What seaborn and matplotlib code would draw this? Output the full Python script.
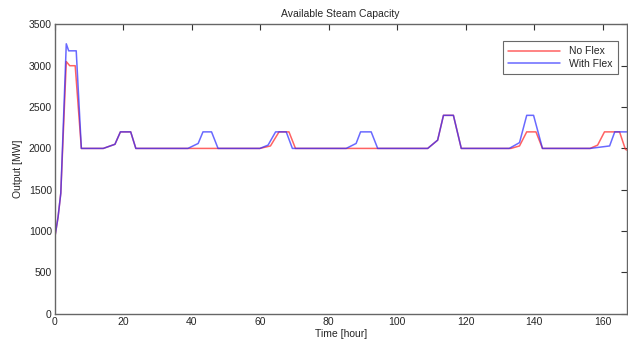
import pandas as pd
import seaborn as sns
import matplotlib.pyplot as plt

# breakpoints (hour, MW)
no_flex_t = [0, 1, 1.8, 3.4, 4.4, 6.0, 7.8, 14.2, 17.6, 19.2, 22.2, 23.7,
             38.9, 47.7, 59.9, 63.0, 65.5, 68.4, 70.3,
             85.1, 94.3, 108.9, 111.8, 113.5, 116.4, 118.7,
             133.2, 135.7, 137.8, 140.5, 142.4,
             156.3, 158.5, 160.5, 164.9, 166.6, 167]
no_flex_mw = [910, 1170, 1460, 3050, 3000, 3000, 2000, 2000, 2050, 2200, 2200, 2000,
              2000, 2000, 2000, 2030, 2200, 2200, 2000,
              2000, 2000, 2000, 2100, 2400, 2400, 2000,
              2000, 2030, 2200, 2200, 2000,
              2000, 2040, 2200, 2200, 1990, 1980]

with_flex_t = [0, 1, 1.8, 3.4, 4.1, 6.3, 7.8, 14.2, 17.6, 19.2, 22.2, 23.7,
               38.9, 41.9, 43.3, 45.8, 47.7, 59.9, 62.3, 64.5, 67.6, 69.4,
               85.1, 88.0, 89.3, 92.4, 94.3, 108.9, 111.8, 113.5, 116.4, 118.7,
               132.7, 135.7, 137.8, 139.8, 142.4,
               156.3, 162.0, 163.5, 167]
with_flex_mw = [910, 1170, 1460, 3265, 3180, 3180, 2000, 2000, 2050, 2200, 2200, 2000,
                2000, 2060, 2200, 2200, 2000, 2000, 2040, 2200, 2200, 2000,
                2000, 2060, 2200, 2200, 2000, 2000, 2100, 2400, 2400, 2000,
                2000, 2070, 2400, 2400, 2000,
                2000, 2030, 2200, 2200]

df_no = pd.DataFrame({'t': no_flex_t, 'mw': no_flex_mw})
df_with = pd.DataFrame({'t': with_flex_t, 'mw': with_flex_mw})

sns.set_style('white')
plt.rcParams['font.family'] = ['Liberation Sans', 'DejaVu Sans']
plt.rcParams['font.size'] = 7.5

fig = plt.figure(figsize=(6.28, 3.43), dpi=100)
ax = fig.add_axes([0.087, 0.085, 0.911, 0.844])

sns.lineplot(data=df_no, x='t', y='mw', sort=False, color='#ff2020', lw=1.1,
             alpha=0.7, label='No Flex', ax=ax)
sns.lineplot(data=df_with, x='t', y='mw', sort=False, color='#2a2aff', lw=1.1,
             alpha=0.7, label='With Flex', ax=ax)

ax.set_xlim(0, 167)
ax.set_ylim(0, 3500)
ax.set_xticks(range(0, 161, 20))
ax.set_yticks(range(0, 3501, 500))
ax.tick_params(direction='in', length=4, width=0.8, top=True, right=True,
               labelsize=7.5, pad=2, color='#333333')
for s in ax.spines.values():
    s.set_color('#666666')
    s.set_linewidth(1)

ax.set_title('Available Steam Capacity', fontsize=7.5, pad=5)
ax.set_xlabel('Time [hour]', fontsize=7.5, labelpad=2)
ax.set_ylabel('Output [MW]', fontsize=7.5, labelpad=4)

leg = ax.legend(loc='upper right', fancybox=False, fontsize=7.5,
                bbox_to_anchor=(0.993, 0.96), handlelength=5, borderpad=0.5,
                labelspacing=0.25)
leg.get_frame().set_edgecolor('#444444')
leg.get_frame().set_linewidth(0.8)

fig.savefig('out.png', dpi=100)
